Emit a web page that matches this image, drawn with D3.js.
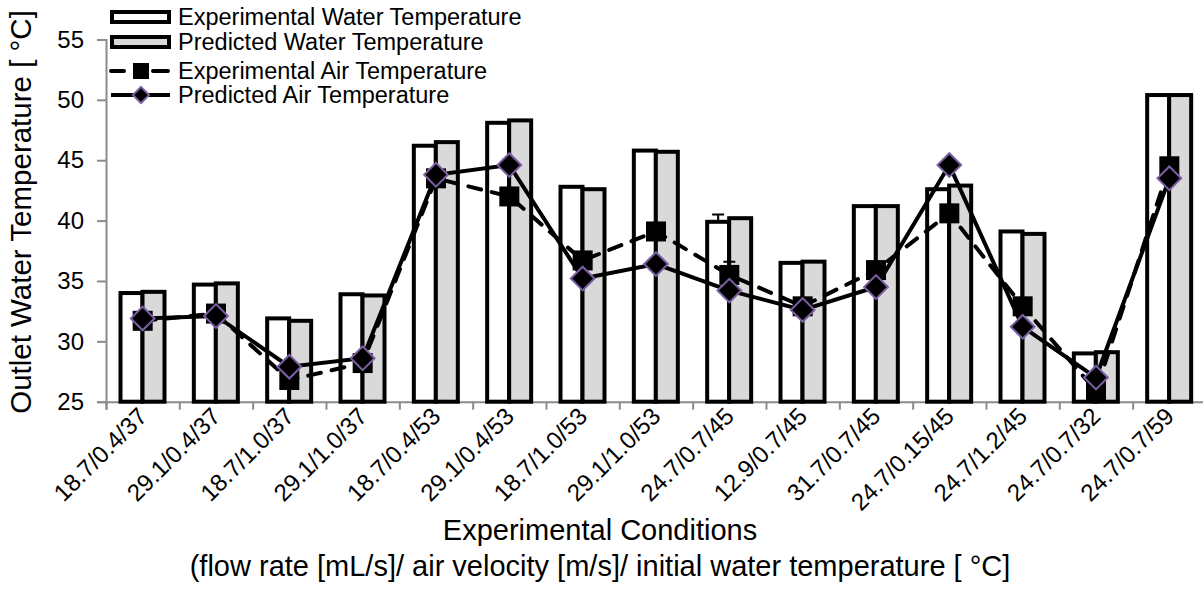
<!DOCTYPE html>
<html lang="en">
<head>
    <meta charset="UTF-8">
    <title>Outlet Water Temperature</title>
    <style>
        body { margin: 0; background: #fff; }
        text { font-family: "Liberation Sans", Arial, sans-serif; fill: #000; }
    </style>
</head>
<body>
<script src="https://d3js.org/d3.v7.min.js"></script>

<div id="my_chart"></div>

<script type="text/javascript">

    // data
    var conditions = ["18.7/0.4/37", "29.1/0.4/37", "18.7/1.0/37", "29.1/1.0/37",
        "18.7/0.4/53", "29.1/0.4/53", "18.7/1.0/53", "29.1/1.0/53",
        "24.7/0.7/45", "12.9/0.7/45", "31.7/0.7/45", "24.7/0.15/45",
        "24.7/1.2/45", "24.7/0.7/32", "24.7/0.7/59"];
    var expWater  = [34.0, 34.7, 31.9, 33.9, 46.2, 48.1, 42.8, 45.8, 39.9, 36.5, 41.2, 42.6, 39.1, 29.0, 50.4];
    var predWater = [34.1, 34.8, 31.7, 33.8, 46.5, 48.3, 42.6, 45.7, 40.2, 36.6, 41.2, 42.9, 38.9, 29.1, 50.4];
    var expAir    = [31.7, 32.3, 26.8, 28.2, 43.5, 42.0, 36.7, 39.1, 35.5, 32.9, 35.9, 40.6, 32.9, 25.9, 44.5];
    var predAir   = [31.9, 32.1, 27.9, 28.6, 43.8, 44.6, 35.2, 36.4, 34.2, 32.6, 34.5, 44.6, 31.2, 27.0, 43.5];
    var expWaterErr = [0, 0, 0, 0, 0, 0, 0, 0, 0.6, 0, 0, 0, 0, 0, 0];
    var expAirErr   = [0, 0, 0, 0, 0, 0, 0, 0, 1.1, 0, 0, 0, 0, 0, 0];
    var yTicks = [25, 30, 35, 40, 45, 50, 55];
    var legendNames = ["Experimental Water Temperature", "Predicted Water Temperature",
        "Experimental Air Temperature", "Predicted Air Temperature"];

    var W = 1203, H = 613;
    var plotLeft = 106, plotRight = 1206, plotTop = 39.5, plotBottom = 401.7;

    var svg = d3
        .select("#my_chart")
        .append("svg")
        .attr("width", W)
        .attr("height", H);

    var x = d3.scaleBand().domain(conditions).range([plotLeft, plotRight]).padding(0);
    var xBar = d3.scaleBand().domain(["exp", "pred"]).range([14.5, 58.5]).padding(0);
    var y = d3.scaleLinear().domain([25, 55]).range([plotBottom, plotTop]);
    var xEdge = d3.scaleLinear().domain([0, conditions.length]).range([plotLeft, plotRight]);

    var rows = conditions.map(function(c, i) {
        return { c: c, ew: expWater[i], pw: predWater[i], ea: expAir[i], pa: predAir[i],
                 ewe: expWaterErr[i], eae: expAirErr[i] };
    });

    // y axis
    var yAxis = svg.append("g")
        .attr("transform", "translate(" + plotLeft + ",0)")
        .call(d3.axisLeft(y).tickValues(yTicks).tickSize(9).tickPadding(13));
    yAxis.selectAll("text").style("font-size", "24px").style("font-family", "Liberation Sans, Arial");
    yAxis.selectAll("line").attr("stroke", "#8c8c8c").attr("stroke-width", 2);
    yAxis.select(".domain").attr("stroke", "#8c8c8c").attr("stroke-width", 2);

    // x axis: ticks on category edges
    var xAxis = svg.append("g")
        .attr("transform", "translate(0," + plotBottom + ")")
        .call(d3.axisBottom(xEdge).tickValues(d3.range(0, conditions.length + 1)).tickSize(8).tickFormat(""));
    xAxis.selectAll("line").attr("stroke", "#8c8c8c").attr("stroke-width", 2);
    xAxis.select(".domain").attr("stroke", "#8c8c8c").attr("stroke-width", 2);

    // x labels
    svg.append("g")
        .selectAll("text")
        .data(conditions)
        .enter()
        .append("text")
        .attr("transform", function(d) {
            return "translate(" + (x(d) + x.bandwidth() / 2 + 6) + "," + (plotBottom + 16) + ") rotate(-45)";
        })
        .attr("text-anchor", "end")
        .style("font-size", "24px")
        .text(function(d) { return d; });

    // bars
    var g = svg.append("g");
    g.selectAll(".ew")
        .data(rows)
        .enter()
        .append("rect")
        .attr("x", function(d) { return x(d.c) + xBar("exp"); })
        .attr("y", function(d) { return y(d.ew); })
        .attr("width", xBar.bandwidth())
        .attr("height", function(d) { return plotBottom - y(d.ew); })
        .attr("fill", "#fff")
        .attr("stroke", "#000")
        .attr("stroke-width", 4);
    g.selectAll(".pw")
        .data(rows)
        .enter()
        .append("rect")
        .attr("x", function(d) { return x(d.c) + xBar("pred"); })
        .attr("y", function(d) { return y(d.pw); })
        .attr("width", xBar.bandwidth())
        .attr("height", function(d) { return plotBottom - y(d.pw); })
        .attr("fill", "#d9d9d9")
        .attr("stroke", "#000")
        .attr("stroke-width", 4);

    // error bars on experimental water
    g.selectAll(".ewe")
        .data(rows.filter(function(d) { return d.ewe > 0; }))
        .enter()
        .append("path")
        .attr("d", function(d) {
            var bx = x(d.c) + xBar("exp") + xBar.bandwidth() / 2;
            return "M" + bx + "," + y(d.ew) + "V" + y(d.ew + d.ewe) +
                "M" + (bx - 6) + "," + y(d.ew + d.ewe) + "H" + (bx + 6);
        })
        .attr("stroke", "#000")
        .attr("stroke-width", 2)
        .attr("fill", "none");

    // experimental air: dashed line + squares
    var cx = function(d) { return x(d.c) + x.bandwidth() / 2; };
    svg.append("path")
        .datum(rows)
        .attr("d", d3.line().x(cx).y(function(d) { return y(d.ea); }))
        .attr("fill", "none")
        .attr("stroke", "#000")
        .attr("stroke-width", 4)
        .attr("stroke-dasharray", "13,11")
        .attr("stroke-linecap", "round");
    svg.selectAll(".eae")
        .data(rows.filter(function(d) { return d.eae > 0; }))
        .enter()
        .append("path")
        .attr("d", function(d) {
            return "M" + cx(d) + "," + y(d.ea) + "V" + y(d.ea + d.eae) +
                "M" + (cx(d) - 6) + "," + y(d.ea + d.eae) + "H" + (cx(d) + 6);
        })
        .attr("stroke", "#000")
        .attr("stroke-width", 2);
    svg.selectAll(".sq")
        .data(rows)
        .enter()
        .append("rect")
        .attr("x", function(d) { return cx(d) - 10; })
        .attr("y", function(d) { return y(d.ea) - 10; })
        .attr("width", 20)
        .attr("height", 20)
        .attr("fill", "#000");

    // predicted air: solid line + diamonds
    svg.append("path")
        .datum(rows)
        .attr("d", d3.line().x(cx).y(function(d) { return y(d.pa); }))
        .attr("fill", "none")
        .attr("stroke", "#000")
        .attr("stroke-width", 4);
    var diamond = d3.symbol().type(d3.symbolSquare).size(280);
    svg.selectAll(".dm")
        .data(rows)
        .enter()
        .append("path")
        .attr("d", diamond)
        .attr("transform", function(d) { return "translate(" + cx(d) + "," + y(d.pa) + ") rotate(45)"; })
        .attr("fill", "#000")
        .attr("stroke", "#7b5fa3")
        .attr("stroke-width", 2);

    // legend
    var lg = svg.append("g");
    var rowY = [17, 42, 71, 95];
    lg.append("rect").attr("x", 112).attr("y", rowY[0] - 5).attr("width", 57).attr("height", 10)
        .attr("fill", "#fff").attr("stroke", "#000").attr("stroke-width", 4);
    lg.append("rect").attr("x", 112).attr("y", rowY[1] - 5).attr("width", 57).attr("height", 10)
        .attr("fill", "#d9d9d9").attr("stroke", "#000").attr("stroke-width", 4);
    lg.append("path").attr("d", "M111," + rowY[2] + "H124M153," + rowY[2] + "H168")
        .attr("stroke", "#000").attr("stroke-width", 4).attr("stroke-linecap", "round");
    lg.append("rect").attr("x", 133).attr("y", rowY[2] - 8).attr("width", 16).attr("height", 16).attr("fill", "#000");
    lg.append("path").attr("d", "M111," + rowY[3] + "H170")
        .attr("stroke", "#000").attr("stroke-width", 4);
    lg.append("path").attr("d", d3.symbol().type(d3.symbolSquare).size(130))
        .attr("transform", "translate(141," + rowY[3] + ") rotate(45)")
        .attr("fill", "#000").attr("stroke", "#7b5fa3").attr("stroke-width", 2);
    lg.selectAll(".lt")
        .data(legendNames)
        .enter()
        .append("text")
        .attr("x", 178)
        .attr("y", function(d, i) { return rowY[i] + 8; })
        .style("font-size", "23.5px")
        .text(function(d) { return d; });

    // axis titles
    svg.append("text")
        .attr("transform", "translate(31,212) rotate(-90)")
        .attr("text-anchor", "middle")
        .style("font-size", "29.5px")
        .text("Outlet Water Temperature [ \u00b0C]");
    svg.append("text")
        .attr("x", 600)
        .attr("y", 540)
        .attr("text-anchor", "middle")
        .style("font-size", "29px")
        .text("Experimental Conditions");
    svg.append("text")
        .attr("x", 600)
        .attr("y", 576)
        .attr("text-anchor", "middle")
        .style("font-size", "29px")
        .text("(flow rate [mL/s]/ air velocity [m/s]/ initial water temperature [ \u00b0C]");

</script>
</body>
</html>
